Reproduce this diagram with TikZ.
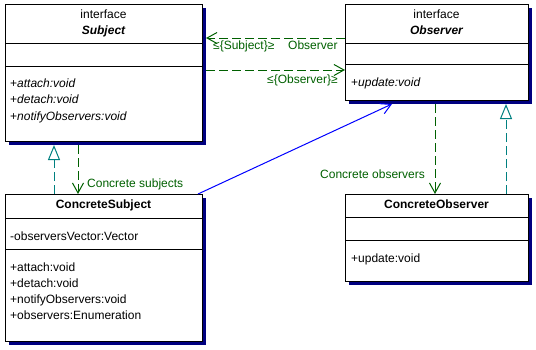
\documentclass[tikz,border=0pt]{standalone}
\usepackage{fontspec}
\setmainfont{Liberation Sans}
\usepackage{xcolor}
\usepackage{tikz}
\usetikzlibrary{arrows.meta,shadows}

\definecolor{umlgreen}{RGB}{0,96,0}
\definecolor{umlteal}{RGB}{0,128,128}
\definecolor{umlblue}{RGB}{0,0,255}
\definecolor{umlnavy}{RGB}{0,0,128}
\newcommand\umlfont{\fontsize{12}{14}\selectfont}

\begin{document}
\begin{tikzpicture}[x=1pt,y=-1pt]
\useasboundingbox (0,0) rectangle (536,349);
\tikzstyle{cls} = [draw, line width=1pt, fill=white, anchor=north west, inner sep=0pt,
  drop shadow={shadow xshift=3pt, shadow yshift=-3pt, fill=umlnavy, opacity=1}]
\tikzstyle{sep} = [line width=1pt]
\tikzstyle{txt} = [anchor=base west, inner sep=0pt, font=\umlfont]
\tikzstyle{ttl} = [anchor=base, inner sep=0pt, font=\umlfont]
\tikzstyle{lbl} = [txt, text=umlgreen]
\tikzstyle{dep} = [umlgreen, line width=1pt, dash pattern=on 9pt off 4pt,
  -{Straight Barb[length=10pt,width=11pt]}]
\tikzstyle{real} = [umlteal, line width=1pt, dash pattern=on 9pt off 4pt,
  -{Triangle[open,length=15pt,width=12pt]}]
\tikzstyle{assoc} = [umlblue, line width=1pt, -{Straight Barb[length=10pt,width=11pt]}]

% class boxes
\node [cls, minimum width=197pt, minimum height=137pt] (subj) at (5,4) {};
\node [cls, minimum width=183pt, minimum height=96pt] (obs) at (345,4) {};
\node [cls, minimum width=197pt, minimum height=147pt] (csubj) at (5,194) {};
\node [cls, minimum width=183pt, minimum height=87pt] (cobs) at (345,194) {};

% compartments
\draw [sep] (subj.west |- 0,43) -- (subj.east |- 0,43);
\draw [sep] (subj.west |- 0,66) -- (subj.east |- 0,66);
\draw [sep] (obs.west |- 0,43) -- (obs.east |- 0,43);
\draw [sep] (obs.west |- 0,64) -- (obs.east |- 0,64);
\draw [sep] (csubj.west |- 0,218) -- (csubj.east |- 0,218);
\draw [sep] (csubj.west |- 0,249) -- (csubj.east |- 0,249);
\draw [sep] (cobs.west |- 0,217) -- (cobs.east |- 0,217);
\draw [sep] (cobs.west |- 0,240) -- (cobs.east |- 0,240);

% Subject
\node [ttl] (subjI) at (103.5,18) {interface};
\node [ttl, font=\umlfont\bfseries\itshape] (subjN) at (103.5,34) {Subject};
\node [txt] (subjM1) at (10,87) {+\textit{attach:void}};
\node [txt] (subjM2) at (10,103.5) {+\textit{detach:void}};
\node [txt] (subjM3) at (10,120) {+\textit{notifyObservers:void}};

% Observer
\node [ttl] (obsI) at (436.5,18) {interface};
\node [ttl, font=\umlfont\bfseries\itshape] (obsN) at (436.5,34) {Observer};
\node [txt] (obsM1) at (351,86) {+\textit{update:void}};

% ConcreteSubject
\node [ttl, font=\umlfont\bfseries] (csubjN) at (103.5,208) {ConcreteSubject};
\node [txt] (csubjA1) at (10,240) {-observersVector:Vector};
\node [txt] (csubjM1) at (10,271.5) {+attach:void};
\node [txt] (csubjM2) at (10,287.5) {+detach:void};
\node [txt] (csubjM3) at (10,303.5) {+notifyObservers:void};
\node [txt] (csubjM4) at (10,319.5) {+observers:Enumeration};

% ConcreteObserver
\node [ttl, font=\umlfont\bfseries] (cobsN) at (436.5,208) {ConcreteObserver};
\node [txt] (cobsM1) at (351,262) {+update:void};

% edges of the shadows
\coordinate (subjR) at ([xshift=3pt]subj.east);
\coordinate (subjB) at ([yshift=-3pt]subj.south);
\coordinate (obsB) at ([yshift=-3pt]obs.south);

% connectors
\draw [dep] (obs.west |- 0,38) -- (subjR |- 0,38);
\draw [dep] (subjR |- 0,70) -- (obs.west |- 0,70);
\draw [dep] (subjB -| 78,0) -- (csubj.north -| 78,0);
\draw [real] (csubj.north -| 54,0) -- (subjB -| 54,0);
\draw [assoc] ([xshift=-5pt]csubj.north east) -- (obsB -| 392,0);
\draw [dep] (obsB -| 435,0) -- (cobs.north -| 435,0);
\draw [real] (cobs.north -| 506,0) -- (obsB -| 506,0);

% labels
\node [lbl] (lblSubj) at (213,49) {≤\{Subject\}≥};
\node [lbl] (lblRole) at (288,49) {Observer};
\node [lbl] (lblObs) at (267,83) {≤\{Observer\}≥};
\node [lbl] (lblCS) at (87,187) {Concrete subjects};
\node [lbl] (lblCO) at (320,178) {Concrete observers};
\end{tikzpicture}
\end{document}
